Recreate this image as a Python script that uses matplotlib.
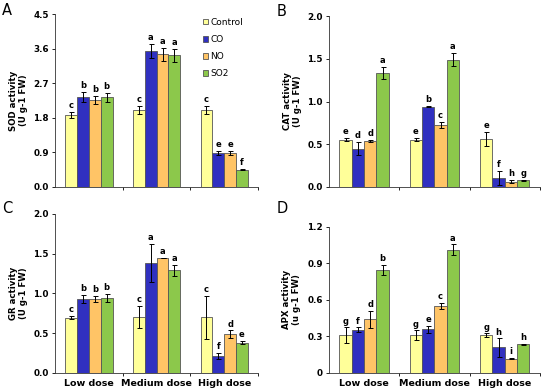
import matplotlib
matplotlib.use("Agg")
import matplotlib.pyplot as plt
import numpy as np

groups = ["Low dose", "Medium dose", "High dose"]
treatments = ["Control", "CO", "NO", "SO2"]
colors = ["#ffff99", "#3030c0", "#ffc466", "#8cc84b"]

# values per treatment, order: low, medium, high
sod = [[1.88, 2.00, 2.00], [2.33, 3.54, 0.88], [2.26, 3.45, 0.88], [2.33, 3.43, 0.45]]
sod_err = [[0.08, 0.10, 0.10], [0.13, 0.18, 0.06], [0.11, 0.17, 0.06], [0.12, 0.17, 0.02]]
sod_lab = [["c", "c", "c"], ["b", "a", "e"], ["b", "a", "e"], ["b", "a", "f"]]

cat = [[0.555, 0.555, 0.56], [0.45, 0.94, 0.105], [0.536, 0.73, 0.062], [1.33, 1.49, 0.078]]
cat_err = [[0.02, 0.02, 0.08], [0.075, 0.005, 0.085], [0.015, 0.035, 0.015], [0.07, 0.08, 0.005]]
cat_lab = [["e", "e", "e"], ["d", "b", "f"], ["d", "c", "h"], ["a", "a", "g"]]

gr = [[0.695, 0.70, 0.70], [0.926, 1.38, 0.215], [0.926, 1.444, 0.484], [0.943, 1.29, 0.38]]
gr_err = [[0.02, 0.14, 0.27], [0.05, 0.24, 0.04], [0.04, 0.005, 0.05], [0.05, 0.065, 0.02]]
gr_lab = [["c", "c", "c"], ["b", "a", "f"], ["b", "a", "d"], ["b", "a", "e"]]

apx = [[0.31, 0.31, 0.31], [0.355, 0.358, 0.21], [0.44, 0.553, 0.118], [0.845, 1.01, 0.234]]
apx_err = [[0.065, 0.04, 0.015], [0.02, 0.03, 0.075], [0.07, 0.025, 0.005], [0.04, 0.045, 0.008]]
apx_lab = [["g", "g", "g"], ["f", "e", "h"], ["d", "c", "i"], ["b", "a", "h"]]


def panel(rect, vals, errs, labs, ymax, step, ylabel, tickfmt, xlabels):
    ax = fig.add_axes(rect)
    x = np.arange(len(groups))
    w = 0.175
    for i in range(len(treatments)):
        pos = x + (i - 1.5) * w
        ax.bar(pos, vals[i], w, color=colors[i], edgecolor="#555555",
               linewidth=0.6, label=treatments[i], zorder=2)
        ax.errorbar(pos, vals[i], yerr=errs[i], fmt="none", ecolor="black",
                    elinewidth=0.7, capsize=1.8, capthick=0.7, zorder=3)
        for p, v, e, t in zip(pos, vals[i], errs[i], labs[i]):
            ax.text(p, v + e + ymax * 0.012, t, ha="center", va="bottom",
                    fontsize=6, fontweight="bold")
    ax.set_xlim(-0.5, 2.5)
    ax.set_ylim(0, ymax)
    ticks = np.arange(0, ymax + step / 2, step)
    ax.set_yticks(ticks)
    ax.set_yticklabels([tickfmt(t) for t in ticks], fontsize=6.3, fontweight="bold")
    ax.set_xticks([0.5, 1.5, 2.5])
    ax.set_xticklabels([])
    ax.tick_params(axis="x", length=2.5, width=0.6, direction="out")
    ax.tick_params(axis="y", length=2.5, width=0.6, direction="out", pad=2)
    if xlabels:
        for xi, g in zip(x, groups):
            ax.text(xi, -ymax * 0.04, g, ha="center", va="top",
                    fontsize=6.8, fontweight="bold")
    for s in ["top", "right"]:
        ax.spines[s].set_visible(False)
    for s in ["left", "bottom"]:
        ax.spines[s].set_linewidth(0.6)
        ax.spines[s].set_color("#333333")
    ax.set_ylabel(ylabel, fontsize=6.2, fontweight="bold", labelpad=4, linespacing=1.15)
    return ax


fig = plt.figure(figsize=(5.41, 3.92), dpi=100)
fig.patch.set_facecolor("white")

f1 = lambda t: "%.1f" % t
axA = panel([0.102, 0.523, 0.375, 0.441], sod, sod_err, sod_lab, 4.5, 0.9,
            "SOD activity\n(U g-1 FW)", f1, False)
axB = panel([0.608, 0.523, 0.39, 0.436], cat, cat_err, cat_lab, 2.0, 0.5,
            "CAT activity\n(U g-1 FW)", f1, False)
axC = panel([0.102, 0.0485, 0.375, 0.406], gr, gr_err, gr_lab, 2.0, 0.5,
            "GR activity\n(U g-1 FW)", f1, True)
axD = panel([0.608, 0.0485, 0.39, 0.373], apx, apx_err, apx_lab, 1.2, 0.3,
            "APX activity\n(u g-1 FW)", lambda t: "0" if t == 0 else "%.1f" % t, True)

for letter, xf, yf in [("A", 0.004, 0.992), ("B", 0.511, 0.99),
                       ("C", 0.004, 0.487), ("D", 0.511, 0.487)]:
    fig.text(xf, yf, letter, fontsize=10.5, ha="left", va="top")

axA.legend(loc="upper right", bbox_to_anchor=(0.965, 1.025), fontsize=6.5, frameon=False,
           handlelength=0.55, handleheight=0.55, handletextpad=0.25, labelspacing=0.9)

fig.savefig("out.png", dpi=100)
